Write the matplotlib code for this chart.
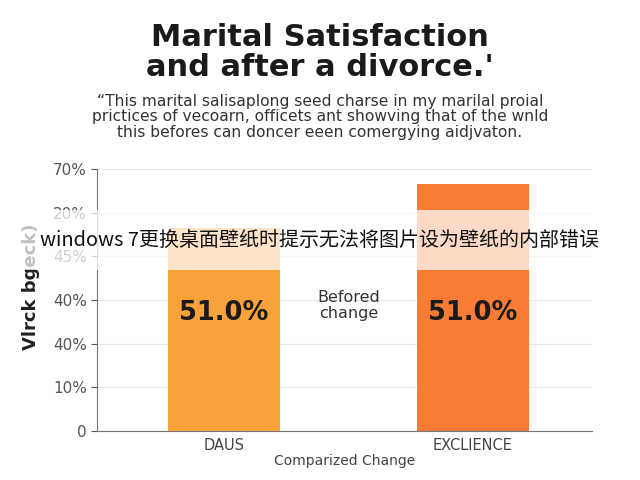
import matplotlib.pyplot as plt
from matplotlib.patches import Rectangle

# bar data (in tick units: ticks are evenly spaced, labels are as printed)
categories = ['DAUS', 'EXCLIENCE']
values = [4.65, 5.65]
bar_labels = ['51.0%', '51.0%']
bar_colors = ['#F9A23B', '#F97B34']
ytick_labels = ['0', '10%', '40%', '40%', '45%', '20%', '70%']

title = "Marital Satisfaction\nand after a divorce.'"
subtitle = ("\u201cThis marital salisaplong seed charse in my marilal proial\n"
            "prictices of vecoarn, officets ant showving that of the wnld\n"
            "this befores can doncer eeen comergying aidjvaton.")
watermark = "windows 7更换桌面壁纸时提示无法将图片设为壁纸的内部错误"

fig = plt.figure(figsize=(6.4, 4.8), dpi=100)
ax = fig.add_axes([0.152, 0.102, 0.773, 0.546])

x = range(len(categories))
ax.bar(x, values, width=0.45, color=bar_colors, zorder=2)
for i, lab in enumerate(bar_labels):
    ax.text(i, 2.7, lab, ha='center', va='center', fontsize=18.5,
            fontweight='bold', color='#1a1a1a', zorder=3)

ax.text(0.5, 2.87, 'Befored\nchange', ha='center', va='center',
        fontsize=11.5, color='#333333', linespacing=1.1)

ax.set_xlim(-0.51, 1.48)
ax.set_ylim(0, 6)
ax.set_yticks(range(len(ytick_labels)))
ax.set_yticklabels(ytick_labels)
ax.set_xticks(list(x))
ax.set_xticklabels(categories)
ax.tick_params(axis='y', labelsize=11, colors='#555555', length=4)
ax.tick_params(axis='x', labelsize=10.5, colors='#444444', length=0, pad=5)
ax.grid(axis='y', color='#e6e6e6', linewidth=0.8, zorder=0)
ax.set_axisbelow(True)
for s in ['top', 'right']:
    ax.spines[s].set_visible(False)
for s in ['left', 'bottom']:
    ax.spines[s].set_color('#777777')
ax.set_xlabel('Comparized Change', fontsize=10, color='#444444', labelpad=1)
ax.set_ylabel('Vlrck bgeck)', fontsize=13, fontweight='bold', color='#222222')
ax.yaxis.set_label_coords(-0.115, 0.55)

fig.text(0.5, 0.89, title, ha='center', va='center', fontsize=22,
         fontweight='bold', color='#1a1a1a', linespacing=1.05)
fig.text(0.5, 0.757, subtitle, ha='center', va='center', fontsize=11.2,
         color='#333333', linespacing=1.05)

# semi-transparent band with watermark text
fig.patches.append(Rectangle((0, 0.4375), 1, 0.125, transform=fig.transFigure,
                             facecolor='white', alpha=0.72, zorder=5))
fig.text(0.5, 0.499, watermark, ha='center', va='center', fontsize=14.4,
         color='#111111', family=['Noto Sans CJK SC', 'DejaVu Sans'], zorder=6)

fig.savefig('out.png', dpi=100)
